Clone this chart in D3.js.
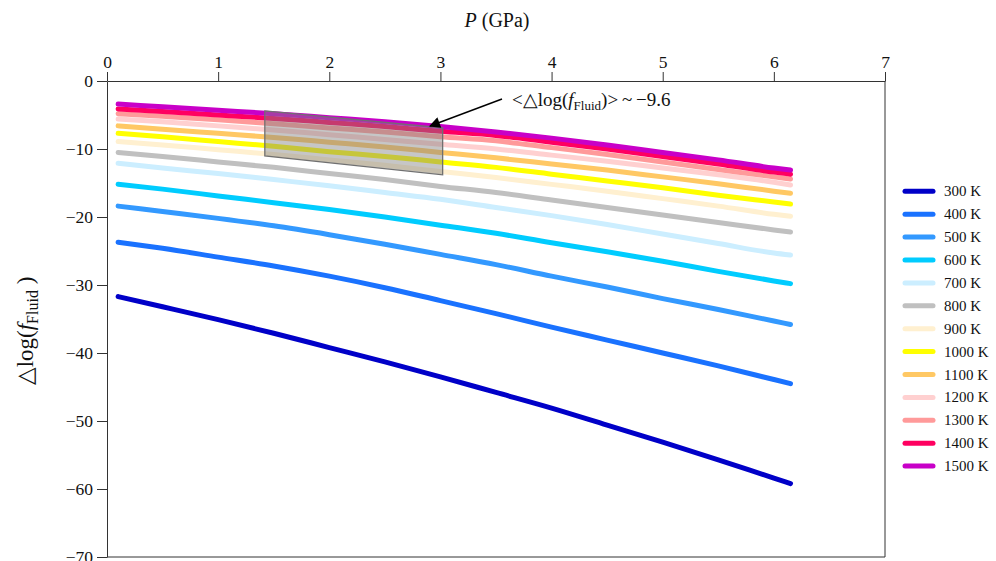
<!DOCTYPE html>
<html>
<head>
<meta charset="utf-8">
<script src="https://cdn.jsdelivr.net/npm/d3@7"></script>
<style>
  body { margin: 0; background: #fff; }
  svg, svg text { font-family: "Liberation Serif", "Times New Roman", serif; }
</style>
</head>
<body>
<svg id="chart" width="996" height="561"></svg>
<script>
const width = 996, height = 561;
const margin = {top: 81, right: 111, bottom: 4, left: 107};

// pressure grid (GPa)
const pressures = [0.1, 0.5, 1, 1.5, 2, 2.5, 3, 3.5, 4, 4.5, 5, 5.5, 6, 6.15];
const temps = ["300 K","400 K","500 K","600 K","700 K","800 K","900 K","1000 K","1100 K","1200 K","1300 K","1400 K","1500 K"];
const colors = ["#0000c8","#1a72ff","#3399ff","#00ccff","#cceeff","#c0c0c0","#fff0d0","#ffff00","#ffc864","#ffd0d0","#ff9a9a","#ff0060","#c800c8"];

// delta log f values, one row per temperature
const t300  = [-31.7,-33.2,-35.1,-37.1,-39.2,-41.3,-43.5,-45.8,-48.1,-50.6,-53.1,-55.7,-58.4,-59.2];
const t400  = [-23.7,-24.6,-25.9,-27.2,-28.7,-30.4,-32.3,-34.2,-36.2,-38.1,-40.0,-41.9,-43.9,-44.5];
const t500  = [-18.4,-19.2,-20.2,-21.3,-22.6,-24.0,-25.5,-27.0,-28.7,-30.3,-32.0,-33.6,-35.3,-35.8];
const t600  = [-15.2,-15.9,-16.9,-17.9,-18.9,-20.0,-21.2,-22.4,-23.8,-25.1,-26.5,-28.0,-29.4,-29.8];
const t700  = [-12.1,-12.8,-13.6,-14.5,-15.4,-16.4,-17.4,-18.6,-19.8,-21.1,-22.5,-23.9,-25.3,-25.6];
const t800  = [-10.5,-11.1,-11.9,-12.7,-13.6,-14.5,-15.5,-16.4,-17.5,-18.6,-19.7,-20.8,-21.9,-22.2];
const t900  = [-8.9,-9.4,-10.1,-10.8,-11.6,-12.4,-13.3,-14.2,-15.2,-16.2,-17.3,-18.4,-19.6,-19.9];
const t1000 = [-7.7,-8.2,-8.9,-9.6,-10.4,-11.1,-11.9,-12.7,-13.7,-14.7,-15.7,-16.8,-17.8,-18.1];
const t1100 = [-6.6,-7.1,-7.7,-8.3,-9.0,-9.7,-10.5,-11.3,-12.2,-13.1,-14.1,-15.1,-16.2,-16.5];
const t1200 = [-5.6,-6.0,-6.6,-7.2,-7.9,-8.6,-9.3,-10.0,-10.9,-11.8,-12.8,-13.8,-14.9,-15.3];
const t1300 = [-4.8,-5.2,-5.7,-6.3,-6.9,-7.5,-8.2,-8.8,-9.8,-10.8,-11.9,-13.0,-14.1,-14.4];
const t1400 = [-4.1,-4.5,-5.0,-5.5,-6.1,-6.7,-7.4,-8.0,-9.0,-10.0,-11.1,-12.2,-13.4,-13.7];
const t1500 = [-3.4,-3.8,-4.3,-4.8,-5.4,-6.0,-6.7,-7.5,-8.4,-9.4,-10.5,-11.6,-12.8,-13.1];
const series = [t300,t400,t500,t600,t700,t800,t900,t1000,t1100,t1200,t1300,t1400,t1500];

// shaded box [P, value]
const boxPts = [[1.42,-4.4],[3.02,-6.9],[3.02,-13.8],[1.42,-11.0]];
const xTicks = [0,1,2,3,4,5,6,7];
const yTicks = [0,-10,-20,-30,-40,-50,-60,-70];

const svg = d3.select("#chart");
const x = d3.scaleLinear().domain([0, 7]).range([margin.left, width - margin.right]);
const y = d3.scaleLinear().domain([-70, 0]).range([557, margin.top]);
const fmt = d3.format("d");

function styleTicks(g) {
  g.attr("font-family", null).attr("font-size", null);
  g.selectAll("text")
    .style("font-family", '"Liberation Serif", serif')
    .style("font-size", "17.5px")
    .attr("fill", "#111");
}

// axes
svg.append("g")
  .attr("transform", `translate(0,${y(0)})`)
  .call(d3.axisTop(x).tickValues(xTicks).tickFormat(fmt).tickSize(9).tickSizeOuter(0).tickPadding(4))
  .call(styleTicks);

svg.append("g")
  .attr("transform", `translate(${x(0)},0)`)
  .call(d3.axisLeft(y).tickValues(yTicks).tickFormat(fmt).tickSize(10).tickSizeOuter(0).tickPadding(4))
  .call(styleTicks);

svg.selectAll(".domain, .tick line").attr("stroke", "#333");

// right + bottom frame
svg.append("path")
  .attr("d", `M${x(7)},${y(0)}V${y(-70)}H${x(0)}`)
  .attr("fill", "none").attr("stroke", "#333");

// lines
const line = d3.line()
  .x((d, i) => x(pressures[i]))
  .y(d => y(d))
  .curve(d3.curveMonotoneX);

svg.append("g").selectAll("path")
  .data(series)
  .join("path")
    .attr("d", line)
    .attr("fill", "none")
    .attr("stroke", (d, i) => colors[i])
    .attr("stroke-width", 5)
    .attr("stroke-linecap", "round");

// shaded region
svg.append("polygon")
  .attr("points", boxPts.map(p => [x(p[0]), y(p[1])].join(",")).join(" "))
  .attr("fill", "#808080").attr("fill-opacity", 0.45)
  .attr("stroke", "#707070").attr("stroke-width", 1.3);

// arrow
svg.append("defs").append("marker")
  .attr("id", "arrow").attr("viewBox", "0 0 10 10")
  .attr("refX", 9).attr("refY", 5)
  .attr("markerWidth", 16).attr("markerHeight", 11)
  .attr("markerUnits", "userSpaceOnUse")
  .attr("orient", "auto")
  .append("path").attr("d", "M0,0L10,5L0,10z").attr("fill", "#000");

svg.append("line")
  .attr("x1", 502).attr("y1", 99)
  .attr("x2", 430).attr("y2", 126)
  .attr("stroke", "#000").attr("stroke-width", 1.4)
  .attr("marker-end", "url(#arrow)");

// annotation text
const ann = svg.append("text").attr("x", 512).attr("y", 106).attr("font-size", 19).attr("fill", "#111");
ann.append("tspan").text("<△log(");
ann.append("tspan").attr("font-style", "italic").text("f");
ann.append("tspan").attr("font-size", 13).attr("dy", 4).text("Fluid");
ann.append("tspan").attr("dy", -4).text(")>\u2009~\u2009−9.6");

// x title
const xt = svg.append("text").attr("x", 497).attr("y", 27).attr("text-anchor", "middle")
  .attr("font-size", 20).attr("fill", "#111");
xt.append("tspan").attr("font-style", "italic").text("P");
xt.append("tspan").text(" (GPa)");

// y title
const yt = svg.append("text")
  .attr("transform", "translate(33,331) rotate(-90)")
  .attr("text-anchor", "middle").attr("font-size", 23).attr("fill", "#111");
yt.append("tspan").text("△log(");
yt.append("tspan").attr("font-style", "italic").text("f");
yt.append("tspan").attr("font-size", 16).attr("dy", 5).text("Fluid");
yt.append("tspan").attr("dy", -5).text(" )");

// legend
const legend = svg.append("g");
temps.forEach((t, i) => {
  const ly = 191.3 + i * 22.9;
  legend.append("line")
    .attr("x1", 905).attr("x2", 933).attr("y1", ly).attr("y2", ly)
    .attr("stroke", colors[i]).attr("stroke-width", 5).attr("stroke-linecap", "round");
  legend.append("text")
    .attr("x", 944).attr("y", ly + 5)
    .attr("font-size", 15).attr("fill", "#111").text(t);
});
</script>
</body>
</html>
